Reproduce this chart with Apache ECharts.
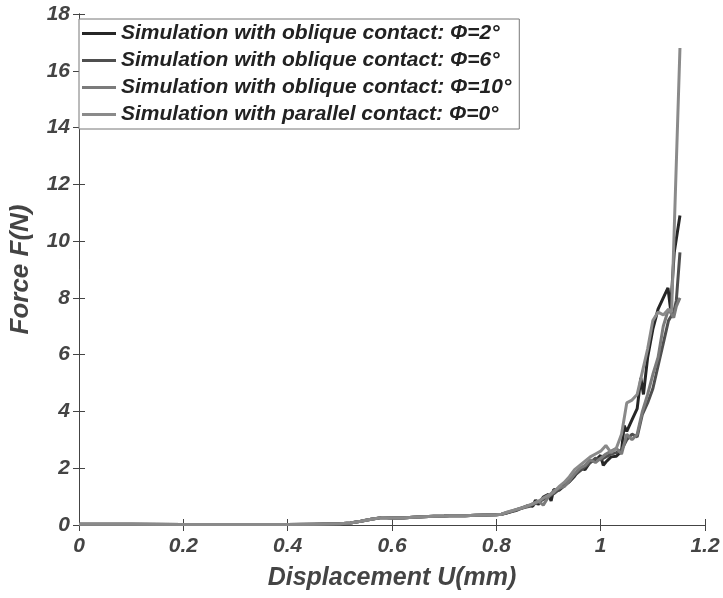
<!DOCTYPE html>
<html>
<head>
<meta charset="utf-8">
<script src="https://cdn.jsdelivr.net/npm/echarts@6/dist/echarts.min.js"></script>
<style>
  html, body { margin: 0; padding: 0; background: #fff; }
  #chart { width: 723px; height: 598px; }
</style>
</head>
<body>
<div id="chart"></div>
<script>
// shared low-force part (all curves overlap here)
let lowX = [0, 0.1, 0.2, 0.3, 0.4, 0.45, 0.5, 0.52, 0.54, 0.56, 0.58, 0.6, 0.62, 0.64, 0.66, 0.68, 0.7, 0.71, 0.72, 0.74, 0.76, 0.78, 0.8, 0.81]
let lowY = [0.03, 0.03, 0.02, 0.02, 0.02, 0.03, 0.04, 0.07, 0.13, 0.2, 0.26, 0.25, 0.25, 0.27, 0.29, 0.31, 0.32, 0.33, 0.33, 0.33, 0.34, 0.35, 0.36, 0.38]

// phi = 2
let phi2X = [0.82, 0.83, 0.84, 0.85, 0.86, 0.87, 0.875, 0.88, 0.89, 0.9, 0.905, 0.91, 0.92, 0.93, 0.94, 0.95, 0.96, 0.97, 0.98, 0.99, 1.0, 1.005, 1.01, 1.02, 1.03, 1.04, 1.045, 1.05, 1.06, 1.07, 1.077, 1.082, 1.09, 1.10, 1.11, 1.12, 1.129, 1.134, 1.141, 1.152]
let phi2Y = [0.42, 0.48, 0.55, 0.6, 0.68, 0.66, 0.88, 0.72, 0.98, 1.08, 0.85, 1.25, 1.22, 1.38, 1.52, 1.72, 2.0, 1.95, 2.22, 2.28, 2.45, 2.1, 2.22, 2.4, 2.42, 2.6, 3.5, 3.3, 3.7, 4.1, 5.18, 4.6, 5.9, 6.9, 7.6, 8.0, 8.35, 7.6, 9.6, 10.9]

// phi = 6 and phi = 10 share x
let phi6X = [0.82, 0.83, 0.84, 0.85, 0.86, 0.87, 0.88, 0.89, 0.9, 0.91, 0.92, 0.93, 0.94, 0.95, 0.96, 0.97, 0.98, 0.99, 1.0, 1.01, 1.02, 1.03, 1.04, 1.05, 1.06, 1.07, 1.08, 1.09, 1.10, 1.11, 1.12, 1.13, 1.14, 1.145, 1.152]
let phi6Y = [0.43, 0.47, 0.52, 0.6, 0.64, 0.72, 0.8, 0.9, 1.0, 1.1, 1.25, 1.4, 1.6, 1.75, 1.9, 2.05, 2.2, 2.35, 2.3, 2.4, 2.5, 2.55, 2.65, 3.0, 3.2, 3.1, 3.9, 4.3, 4.8, 5.6, 6.4, 7.2, 7.5, 7.9, 9.6]
let phi10Y = [0.44, 0.5, 0.55, 0.62, 0.66, 0.75, 0.85, 0.7, 1.0, 1.2, 1.3, 1.35, 1.55, 1.8, 2.0, 2.1, 2.3, 2.2, 2.35, 2.5, 2.6, 2.7, 2.5, 3.2, 3.0, 3.2, 4.0, 4.6, 5.3, 5.9, 7.0, 7.6, 7.3, 7.7, 8.0]

// phi = 0 (parallel)
let phi0X = [0.82, 0.83, 0.84, 0.85, 0.86, 0.87, 0.88, 0.89, 0.9, 0.91, 0.92, 0.93, 0.94, 0.95, 0.96, 0.97, 0.98, 0.99, 1.0, 1.01, 1.02, 1.03, 1.04, 1.05, 1.06, 1.07, 1.08, 1.09, 1.10, 1.11, 1.12, 1.13, 1.136, 1.152]
let phi0Y = [0.45, 0.5, 0.56, 0.6, 0.68, 0.74, 0.82, 0.95, 1.05, 1.15, 1.35, 1.5, 1.7, 1.95, 2.1, 2.25, 2.4, 2.5, 2.6, 2.8, 2.55, 2.7, 3.2, 4.3, 4.4, 4.6, 5.4, 6.2, 7.2, 7.5, 7.4, 7.6, 7.5, 16.8]

let seriesNames = [
  'Simulation with oblique contact: Φ=2°',
  'Simulation with oblique contact: Φ=6°',
  'Simulation with oblique contact: Φ=10°',
  'Simulation with parallel contact: Φ=0°'
]
let seriesColors = ['#262626', '#4f4f4f', '#7b7b7b', '#8a8a8a']

function zip(xs, ys) {
  let out = []
  lowX.forEach((x, i) => out.push([x, lowY[i]]))
  xs.forEach((x, i) => out.push([x, ys[i]]))
  return out
}
let curves = [zip(phi2X, phi2Y), zip(phi6X, phi6Y), zip(phi6X, phi10Y), zip(phi0X, phi0Y)]

const textColor = '#444'
const font = 'Liberation Sans'
const axisLine = { show: true, lineStyle: { color: '#444', width: 1 } }

let chart = echarts.init(document.getElementById('chart'))
chart.setOption({
  animation: false,
  color: seriesColors,
  grid: { left: 77, right: 18, top: 14, bottom: 73, containLabel: false },
  legend: {
    orient: 'vertical',
    left: 79,
    top: 19,
    icon: 'rect',
    itemWidth: 34,
    itemHeight: 3,
    itemGap: 6,
    padding: [4, 8, 4, 3],
    borderColor: '#777',
    borderWidth: 1,
    backgroundColor: '#fff',
    textStyle: { fontFamily: font, fontWeight: 'bold', fontStyle: 'italic', fontSize: 21, color: '#222' },
    data: seriesNames
  },
  xAxis: [{
    type: 'value', min: 0, max: 1.2, interval: 0.2,
    name: 'Displacement U(mm)', nameLocation: 'middle', nameGap: 41,
    nameTextStyle: { fontFamily: font, fontWeight: 'bold', fontStyle: 'italic', fontSize: 25, color: textColor },
    axisLine: axisLine,
    axisTick: { inside: true, length: 6, lineStyle: { color: '#444' } },
    axisLabel: { fontFamily: font, fontWeight: 'bold', fontStyle: 'italic', fontSize: 21, color: textColor, margin: 11,
      formatter: v => String(+v.toFixed(1)) },
    splitLine: { show: false }
  }, {
    type: 'value', min: 0, max: 1.2, interval: 0.2, position: 'top',
    axisLine: axisLine,
    axisTick: { inside: true, length: 6, lineStyle: { color: '#444' } },
    axisLabel: { show: false }, splitLine: { show: false }
  }],
  yAxis: [{
    type: 'value', min: 0, max: 18, interval: 2,
    name: 'Force F(N)', nameLocation: 'middle', nameGap: 45,
    nameTextStyle: { fontFamily: font, fontWeight: 'bold', fontStyle: 'italic', fontSize: 26, color: textColor },
    axisLine: axisLine,
    axisTick: { inside: true, length: 6, lineStyle: { color: '#444' } },
    axisLabel: { fontFamily: font, fontWeight: 'bold', fontStyle: 'italic', fontSize: 21, color: textColor, margin: 9 },
    splitLine: { show: false }
  }, {
    type: 'value', min: 0, max: 18, interval: 2, position: 'right',
    axisLine: axisLine,
    axisTick: { inside: true, length: 6, lineStyle: { color: '#444' } },
    axisLabel: { show: false }, splitLine: { show: false }
  }],
  series: curves.map((d, i) => ({
    name: seriesNames[i],
    type: 'line',
    data: d,
    symbol: 'none',
    lineStyle: { width: 3, color: seriesColors[i] },
    itemStyle: { color: seriesColors[i] }
  }))
})
</script>
</body>
</html>
